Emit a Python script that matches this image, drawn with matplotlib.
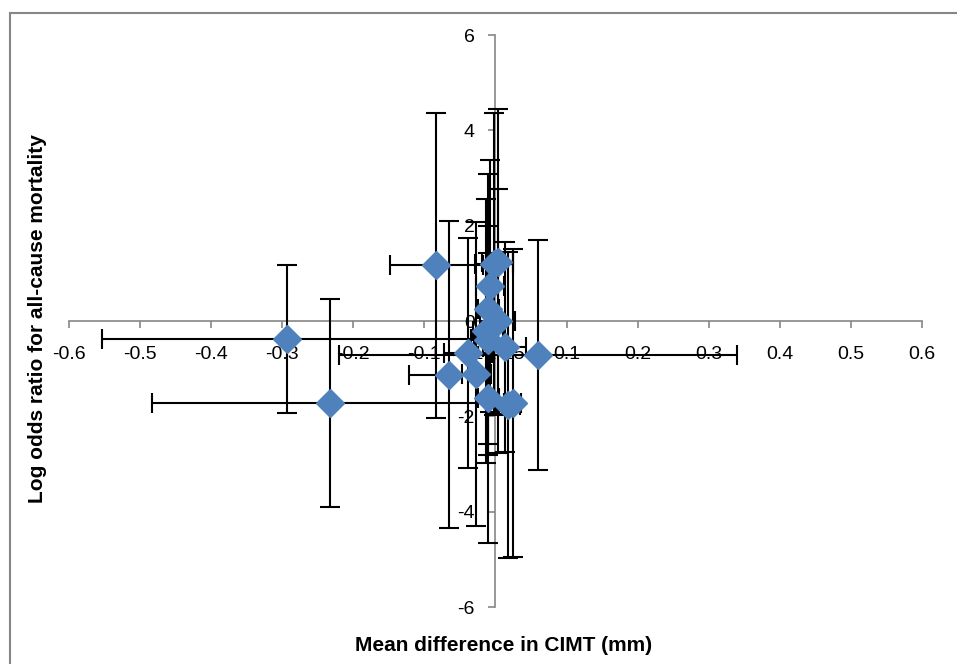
import matplotlib
matplotlib.use('Agg')
import matplotlib.pyplot as plt
from matplotlib.patches import Rectangle

plt.rcParams['font.family'] = ['Liberation Sans', 'DejaVu Sans']
plt.rcParams['axes.unicode_minus'] = False

# mean difference in CIMT (mm) and log odds ratio, with error sizes
cimt_diff = [-0.294, -0.233, -0.083, -0.066, -0.039, -0.027, 0.060,
             -0.002, 0.003, -0.008, -0.010, 0.003, -0.014, -0.010,
             0.013, -0.010, 0.018, 0.024]
log_or = [-0.38, -1.72, 1.17, -1.13, -0.67, -1.11, -0.71,
          1.19, 1.24, 0.73, 0.25, 0.00, -0.21, -0.40,
          -0.55, -1.61, -1.76, -1.72]
cimt_err = [0.26, 0.25, 0.065, 0.055, 0.034, 0.02, 0.28,
            0.027, 0.022, 0.02, 0.015, 0.025, 0.018, 0.02,
            0.03, 0.015, 0.017, 0.012]
log_or_err = [1.55, 2.18, 3.2, 3.22, 2.41, 3.19, 2.41,
              3.17, 3.2, 2.64, 2.83, 2.76, 2.77, 2.4,
              2.2, 3.04, 3.21, 3.23]

x_ticks = [-0.6, -0.5, -0.4, -0.3, -0.2, -0.1, 0.0, 0.1, 0.2, 0.3, 0.4, 0.5, 0.6]
x_tick_labels = ['-0.6', '-0.5', '-0.4', '-0.3', '-0.2', '-0.1', '-1E-15',
                 '0.1', '0.2', '0.3', '0.4', '0.5', '0.6']
y_ticks = [-6, -4, -2, 0, 2, 4, 6]

fig = plt.figure(figsize=(9.57, 6.64), dpi=100)
ax = fig.add_axes([0.0721, 0.0858, 0.8913, 0.8614])

ax.errorbar(cimt_diff, log_or, xerr=cimt_err, yerr=log_or_err, fmt='none',
            ecolor='black', elinewidth=1.5, capsize=7, capthick=1.5, zorder=2)
ax.plot(cimt_diff, log_or, linestyle='none', marker='D', markersize=14,
        color='#4F81BD', markeredgecolor='#4F81BD', zorder=3)

ax.set_xlim(-0.6, 0.6)
ax.set_ylim(-6, 6)
ax.set_xticks(x_ticks)
ax.set_xticklabels(x_tick_labels)
ax.set_yticks(y_ticks)

gray = '#868686'
for side in ['top', 'right']:
    ax.spines[side].set_visible(False)
ax.spines['left'].set_position(('data', 0))
ax.spines['bottom'].set_position(('data', 0))
for side in ['left', 'bottom']:
    ax.spines[side].set_color(gray)
    ax.spines[side].set_linewidth(1.2)
    ax.spines[side].set_zorder(0.5)
ax.set_axisbelow(True)
ax.tick_params(axis='both', direction='out', length=5, width=1.2, color=gray,
               labelsize=14, labelcolor='black')
ax.tick_params(axis='x', pad=13)
ax.tick_params(axis='y', pad=10)
ax.patch.set_visible(False)

fig.text(0.526, 0.028, 'Mean difference in CIMT (mm)', ha='center', va='center',
         fontsize=15, fontweight='bold')
fig.text(0.039, 0.52, 'Log odds ratio for all-cause mortality', ha='center',
         va='center', rotation=90, fontsize=15, fontweight='bold')

fig.add_artist(Rectangle((10 / 957, -0.1), 1.2, 1.1 - 13 / 664, fill=False,
                         edgecolor=gray, linewidth=1.5,
                         transform=fig.transFigure, clip_on=False))

fig.savefig('out.png', dpi=100)
